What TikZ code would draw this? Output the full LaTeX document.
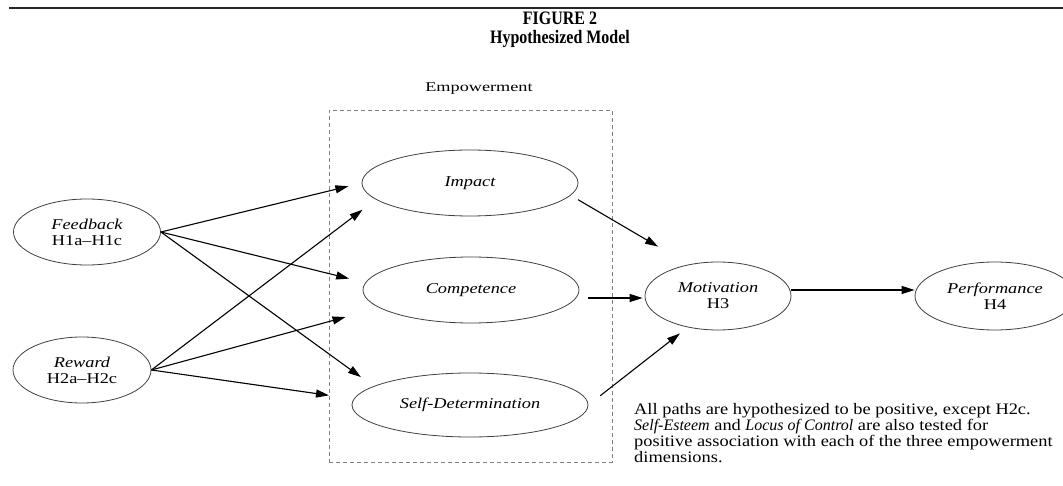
\documentclass[tikz,border=0pt]{standalone}
\usepackage{fontspec}
\setmainfont{Liberation Serif}
\newfontfamily\labfont{Liberation Serif}[FakeStretch=1.22]
\newfontfamily\empfont{Liberation Serif}[FakeStretch=1.35]
\newfontfamily\notefont{Liberation Serif}[FakeStretch=1.15]
\newfontfamily\noteit{Liberation Serif}[FakeStretch=1.0]
\newfontfamily\titlefont{Liberation Serif}[FakeStretch=0.84]
\usetikzlibrary{shapes.geometric,arrows.meta}
\begin{document}
\begin{tikzpicture}[x=1pt,y=-1pt,
  ell/.style={ellipse, draw=black!75, line width=0.8pt, inner sep=0pt, align=center,
    font=\labfont\fontsize{15}{16}\selectfont},
  arr/.style={line width=1.1pt, -{Triangle[length=13pt,width=8pt]}},
  notetext/.style={anchor=base west, inner sep=0pt, font=\notefont\fontsize{16}{16}\selectfont},
  titletext/.style={inner sep=0pt, font=\titlefont\bfseries\fontsize{19}{21}\selectfont}]
\useasboundingbox (0,0) rectangle (1063,486);
\fill[white] (0,0) rectangle (1063,486);
% top rule
\coordinate (ruleL) at (9,8);
\coordinate (ruleR) at (1063,8);
\draw[line width=2.2pt, black!85] (ruleL) -- (ruleR);
% title
\node[titletext] (fig) at (560,18) {FIGURE 2};
\node[titletext] (hyp) at (560,39) {Hypothesized Model};
% empowerment group
\node[draw=black!50, line width=0.9pt, dash pattern=on 4pt off 3pt, minimum width=283pt, minimum height=352pt, inner sep=0pt] (box) at (470.5,286) {};
\node[inner sep=0pt, font=\empfont\fontsize{13.5}{15}\selectfont] (emp) at (479,89) {Empowerment};
% nodes
\node[ell, minimum width=147pt, minimum height=66pt] (fb) at (87,232) {\itshape Feedback\\H1a–H1c};
\node[ell, minimum width=138pt, minimum height=66pt] (rw) at (82,370) {\itshape Reward\\H2a–H2c};
\node[ell, minimum width=216pt, minimum height=66pt] (imp) at (470,183) {\itshape Impact};
\node[ell, minimum width=216pt, minimum height=66pt] (comp) at (471,290) {\itshape Competence};
\node[ell, minimum width=236pt, minimum height=64pt] (sd) at (470,405) {\itshape Self-Determination};
\node[ell, minimum width=146pt, minimum height=68pt] (mot) at (718,296) {\itshape Motivation\\H3};
\node[ell, minimum width=160pt, minimum height=68pt] (perf) at (995,296) {\itshape Performance\\H4};
% connectors
\draw[arr, shorten >=13.6pt] (fb.east) -- (imp.west);
\draw[arr, shorten >=16.6pt] (fb.east) -- (comp.176);
\draw[arr, shorten >=15.5pt] (fb.east) -- (sd.169);
\draw[arr, shorten >=16.8pt] (rw.east) -- (imp.190);
\draw[arr, shorten >=35pt] (rw.east) -- (comp.191);
\draw[arr, shorten >=25pt] (rw.east) -- (sd.177);
\draw[arr, shorten <=8.6pt, shorten >=35.4pt] (imp.353) -- (mot.133);
\draw[arr] ([xshift=9pt,yshift=-8pt]comp.east) -- ([xshift=-2pt,yshift=-2pt]mot.west);
\draw[arr, shorten <=15pt, shorten >=9.9pt] (sd.east) -- (mot.226);
\draw[arr] ([yshift=6pt]mot.east) -- ([yshift=6pt]perf.west);
% note
\node[notetext] (n1) at (634,414) {All paths are hypothesized to be positive, except H2c.};
\node[notetext] (n2) at (634,430) {{\noteit\itshape Self-Esteem} and {\noteit\itshape Locus of Control} are also tested for};
\node[notetext] (n3) at (634,446) {positive association with each of the three empowerment};
\node[notetext] (n4) at (634,462) {dimensions.};
\end{tikzpicture}
\end{document}
